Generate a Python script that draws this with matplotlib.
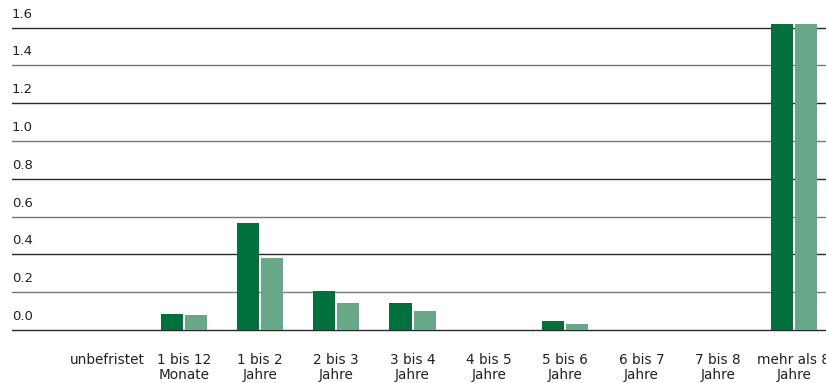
import numpy as np
import matplotlib
matplotlib.use('Agg')
import matplotlib.pyplot as plt
from matplotlib.transforms import offset_copy

plt.rcParams['font.family'] = ['DejaVu Sans']

categories = ['unbefristet', '1 bis 12\nMonate', '1 bis 2\nJahre', '2 bis 3\nJahre',
              '3 bis 4\nJahre', '4 bis 5\nJahre', '5 bis 6\nJahre', '6 bis 7\nJahre',
              '7 bis 8\nJahre', 'mehr als 8\nJahre']
series_a = [0.0, 0.085, 0.566, 0.206, 0.143, 0.0, 0.048, 0.0, 0.0, 1.62]
series_b = [0.0, 0.080, 0.380, 0.143, 0.100, 0.0, 0.030, 0.0, 0.0, 1.62]
yticks = [0.0, 0.2, 0.4, 0.6, 0.8, 1.0, 1.2, 1.4, 1.6]

dark = '#00703C'
light = '#66A887'

fig = plt.figure(figsize=(8.26, 3.83), dpi=100)
ax = fig.add_axes([12 / 826, 48 / 383, 814 / 826, 315 / 383])

x = np.arange(len(categories))
w = 0.29
ax.bar(x - w / 2 - 0.013, series_a, width=w, color=dark, zorder=3)
ax.bar(x + w / 2 + 0.013, series_b, width=w, color=light, zorder=3)

for i, t in enumerate(yticks):
    col = '#2a2a2a' if i % 2 == 0 else '#777777'
    ax.axhline(t, color=col, lw=1.0, zorder=1)
    ax.text(0, t, f'{t:.1f}', transform=offset_copy(ax.get_yaxis_transform(), fig=fig, x=0, y=7, units='dots'),
            ha='left', va='bottom', fontsize=9.5, color='#222222')

ax.set_xlim(-1.25, 9.42)
ax.set_ylim(-0.0265, 1.64)
ax.set_xticks(x)
ax.set_xticklabels(categories, fontsize=9.8, color='#222222', linespacing=1.1)
ax.tick_params(axis='x', length=0, pad=13)
ax.set_yticks([])
for s in ax.spines.values():
    s.set_visible(False)

fig.savefig('out.png', dpi=100)
